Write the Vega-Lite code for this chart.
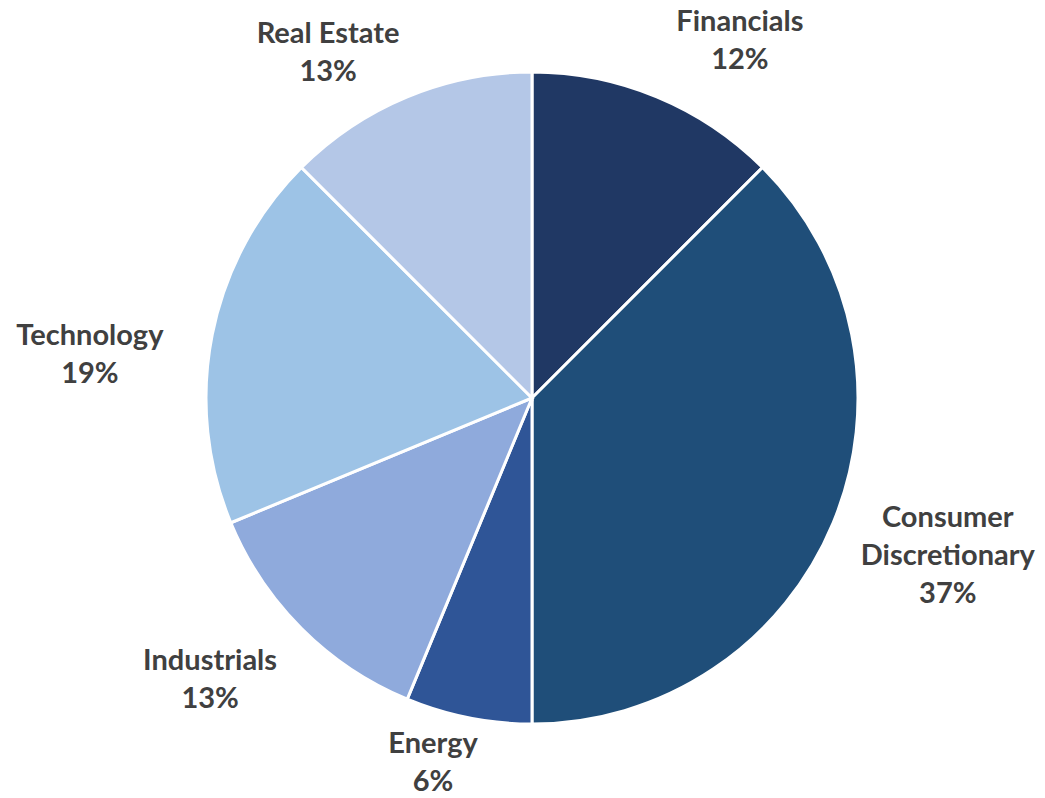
{
  "$schema": "https://vega.github.io/schema/vega-lite/v6.json",
  "width": 1064,
  "height": 796,
  "padding": 0,
  "autosize": "none",
  "background": "white",
  "view": {"stroke": null},
  "data": {
    "values": [
      {"sector": "Financials", "share": 12.5, "label": "Financials\n12%"},
      {"sector": "Consumer Discretionary", "share": 37.5, "label": "Consumer\nDiscretionary\n37%"},
      {"sector": "Energy", "share": 6.25, "label": "Energy\n6%"},
      {"sector": "Industrials", "share": 12.5, "label": "Industrials\n13%"},
      {"sector": "Technology", "share": 18.75, "label": "Technology\n19%"},
      {"sector": "Real Estate", "share": 12.5, "label": "Real Estate\n13%"}
    ]
  },
  "transform": [{"window": [{"op": "row_number", "as": "idx"}]}],
  "encoding": {
    "theta": {"field": "share", "type": "quantitative", "stack": true},
    "order": {"field": "idx", "type": "quantitative"}
  },
  "layer": [
    {
      "mark": {"type": "arc", "outerRadius": 326, "stroke": "white", "strokeWidth": 3},
      "encoding": {
        "color": {
          "field": "sector",
          "type": "nominal",
          "scale": {
            "domain": ["Financials", "Consumer Discretionary", "Energy", "Industrials", "Technology", "Real Estate"],
            "range": ["#203864", "#1F4E79", "#2F5597", "#8FAADC", "#9DC3E6", "#B4C7E7"]
          },
          "legend": null
        }
      }
    },
    {
      "mark": {
        "type": "text",
        "radius": 410,
        "font": "Lato",
        "fontSize": 29,
        "fontWeight": "bold",
        "lineHeight": 38,
        "lineBreak": "\n",
        "align": "center",
        "baseline": "middle",
        "color": "#404040",
        "dx": {"expr": "datum.sector === 'Financials' ? 51 : datum.sector === 'Consumer Discretionary' ? 37 : datum.sector === 'Energy' ? -19 : datum.sector === 'Industrials' ? -32 : datum.sector === 'Technology' ? -40 : -47"},
        "dy": {"expr": "datum.sector === 'Financials' ? 3 : datum.sector === 'Consumer Discretionary' ? -37 : datum.sector === 'Energy' ? -56 : datum.sector === 'Industrials' ? -27 : datum.sector === 'Technology' ? 18 : 15"}
      },
      "encoding": {
        "detail": {"field": "sector", "type": "nominal"},
        "text": {"field": "label", "type": "nominal"}
      }
    }
  ]
}
